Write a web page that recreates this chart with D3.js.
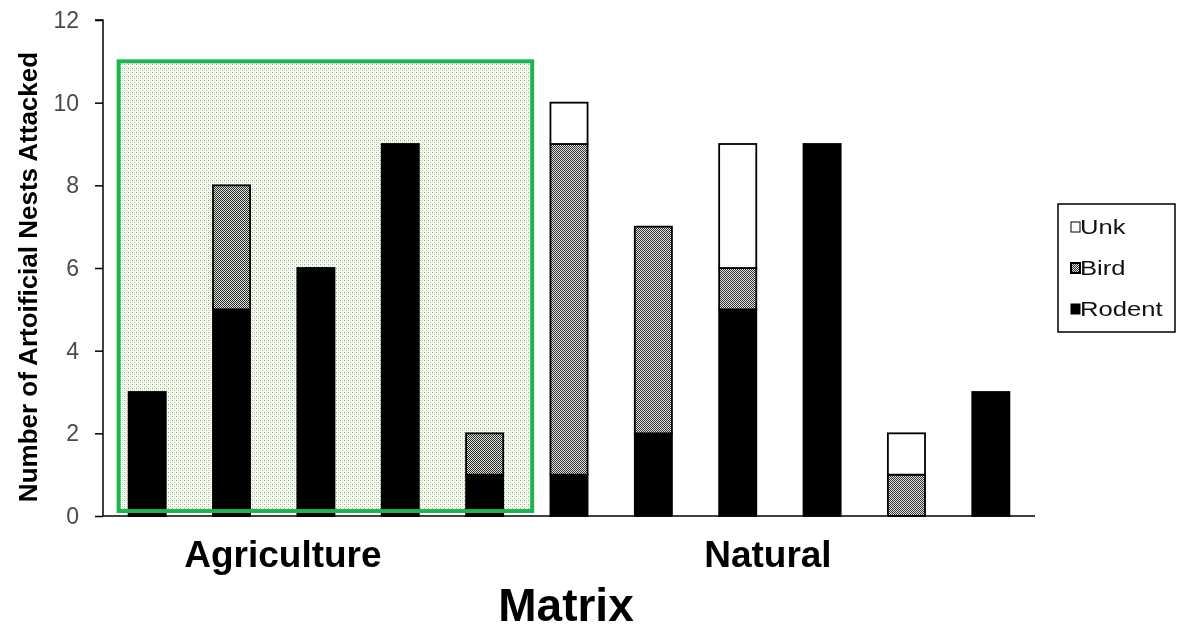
<!DOCTYPE html>
<html>
<head>
<meta charset="utf-8">
<script src="https://cdn.jsdelivr.net/npm/d3@7"></script>
<style>
  html, body { margin: 0; padding: 0; background: #fff; }
  svg { display: block; }
  text { font-family: Arial, "Liberation Sans", sans-serif; }
</style>
</head>
<body>
<svg id="chart" width="1178" height="631"></svg>
<script>
// Nest sites, grouped by landscape matrix
const sites   = ["A1", "A2", "A3", "A4", "A5", "N1", "N2", "N3", "N4", "N5", "N6"];
const matrix  = ["Agriculture", "Agriculture", "Agriculture", "Agriculture", "Agriculture",
                 "Natural", "Natural", "Natural", "Natural", "Natural", "Natural"];
const groups  = ["Agriculture", "Natural"];

// Predator counts per site (stacked bottom to top)
const rodent  = [3, 5, 6, 9, 1, 1, 2, 5, 9, 0, 3];
const bird    = [0, 3, 0, 0, 1, 8, 5, 1, 0, 1, 0];
const unk     = [0, 0, 0, 0, 0, 1, 0, 3, 0, 1, 0];

const seriesKeys  = ["Rodent", "Bird", "Unk"];
const legendOrder = ["Unk", "Bird", "Rodent"];
const yTicks = [0, 2, 4, 6, 8, 10, 12];

const rows = sites.map((s, i) => ({ site: s, matrix: matrix[i], Rodent: rodent[i], Bird: bird[i], Unk: unk[i] }));

const svg = d3.select("#chart");
const defs = svg.append("defs");

// fine checkerboard used for the bird segments
const pBird = defs.append("pattern").attr("id", "birdFill")
  .attr("patternUnits", "userSpaceOnUse").attr("width", 2).attr("height", 2);
pBird.append("rect").attr("width", 2).attr("height", 2).attr("fill", "#e2e2e2");
pBird.append("rect").attr("width", 1).attr("height", 1).attr("fill", "#333");
pBird.append("rect").attr("x", 1).attr("y", 1).attr("width", 1).attr("height", 1).attr("fill", "#333");

// dotted green wash over the agriculture group, multiplied onto what lies below
const pAg = defs.append("pattern").attr("id", "agFill")
  .attr("patternUnits", "userSpaceOnUse").attr("width", 4).attr("height", 4);
pAg.append("rect").attr("width", 4).attr("height", 4).attr("fill", "#fbfdf9");
[[0, 0, "#8db36f"], [2, 2, "#b6d1a1"], [2, 0, "#d3e3c6"], [0, 2, "#d3e3c6"],
 [1, 1, "#edf4e7"], [3, 3, "#edf4e7"]]
  .forEach(([px, py, c]) => {
    pAg.append("rect").attr("x", px).attr("y", py).attr("width", 1).attr("height", 1).attr("fill", c);
  });

const fills = { Rodent: "#000", Bird: "url(#birdFill)", Unk: "#fff" };

const x = d3.scaleBand().domain(sites).range([105, 1033]).paddingInner(0.56).paddingOuter(0.28);
const y = d3.scaleLinear().domain([0, 12]).range([516, 20]);

const stacked = d3.stack().keys(seriesKeys)(rows);

// bars
const layer = svg.append("g").attr("class", "bars");
stacked.forEach(s => {
  layer.selectAll(null)
    .data(s.filter(d => d[1] - d[0] > 0))
    .join("rect")
    .attr("x", d => x(d.data.site))
    .attr("width", x.bandwidth())
    .attr("y", d => y(d[1]))
    .attr("height", d => y(d[0]) - y(d[1]))
    .attr("fill", fills[s.key])
    .attr("stroke", "#000")
    .attr("stroke-width", 1.8);
});

// highlight box around the agriculture sites
const agSites = sites.filter((s, i) => matrix[i] === "Agriculture");
const boxLeft = x(agSites[0]) - 10;
const boxRight = x(agSites[agSites.length - 1]) + x.bandwidth() + 29;
const box = { x: boxLeft, y: y(11), w: boxRight - boxLeft, h: y(0.12) - y(11) };
svg.append("rect")
  .attr("x", box.x).attr("y", box.y).attr("width", box.w).attr("height", box.h)
  .attr("fill", "url(#agFill)")
  .style("mix-blend-mode", "multiply");
svg.append("rect")
  .attr("x", box.x).attr("y", box.y).attr("width", box.w).attr("height", box.h)
  .attr("fill", "none")
  .attr("stroke", "#1bb552")
  .attr("stroke-width", 4);

// y axis
const yAxis = d3.axisLeft(y).tickValues(yTicks).tickSize(8).tickPadding(16);
const gy = svg.append("g").attr("transform", "translate(103,0)").call(yAxis);
gy.select(".domain").attr("stroke", "#000").attr("stroke-width", 1.5).attr("d", `M-8,${y(12)}H0V${y(0)}`);
gy.selectAll(".tick line").attr("stroke", "#000").attr("stroke-width", 1.5);
gy.selectAll(".tick text")
  .attr("font-size", 23).attr("fill", "#4a4a4a")
  .attr("font-family", "Arial, 'Liberation Sans', sans-serif");

// x axis baseline
const xAxis = d3.axisBottom(x).tickSize(0).tickFormat("");
const gx = svg.append("g").attr("transform", `translate(0,${y(0)})`).call(xAxis);
gx.select(".domain").attr("stroke", "#000").attr("stroke-width", 1.5).attr("d", `M103,0H1035`);

// group labels
const groupOffset = { Agriculture: -33, Natural: -12 };
groups.forEach(g => {
  const members = sites.filter((s, i) => matrix[i] === g);
  const cx = d3.mean(members, s => x(s) + x.bandwidth() / 2) + groupOffset[g];
  svg.append("text")
    .attr("x", cx).attr("y", 567)
    .attr("text-anchor", "middle")
    .attr("font-size", 37).attr("font-weight", "bold")
    .text(g);
});

// axis titles
svg.append("text")
  .attr("x", 566).attr("y", 621)
  .attr("text-anchor", "middle")
  .attr("font-size", 46).attr("font-weight", "bold")
  .text("Matrix");

svg.append("text")
  .attr("transform", "translate(37,277) rotate(-90)")
  .attr("text-anchor", "middle")
  .attr("font-size", 26).attr("font-weight", "bold")
  .text("Number of Artoificial Nests Attacked");

// legend
const lg = svg.append("g").attr("transform", "translate(1058,204)");
lg.append("rect").attr("width", 117).attr("height", 128)
  .attr("fill", "#fff").attr("stroke", "#000").attr("stroke-width", 1.5);
legendOrder.forEach((k, i) => {
  const row = lg.append("g").attr("transform", `translate(13,${23 + i * 41})`);
  row.append("rect").attr("x", 0).attr("y", -5).attr("width", 9).attr("height", 10)
    .attr("fill", k === "Bird" ? "url(#birdFill)" : fills[k])
    .attr("stroke", "#000").attr("stroke-width", k === "Bird" ? 2 : 1);
  row.append("text").attr("transform", "translate(9,7) scale(1.22,1)")
    .attr("font-size", 21).attr("fill", "#111")
    .text(k);
});
</script>
</body>
</html>
